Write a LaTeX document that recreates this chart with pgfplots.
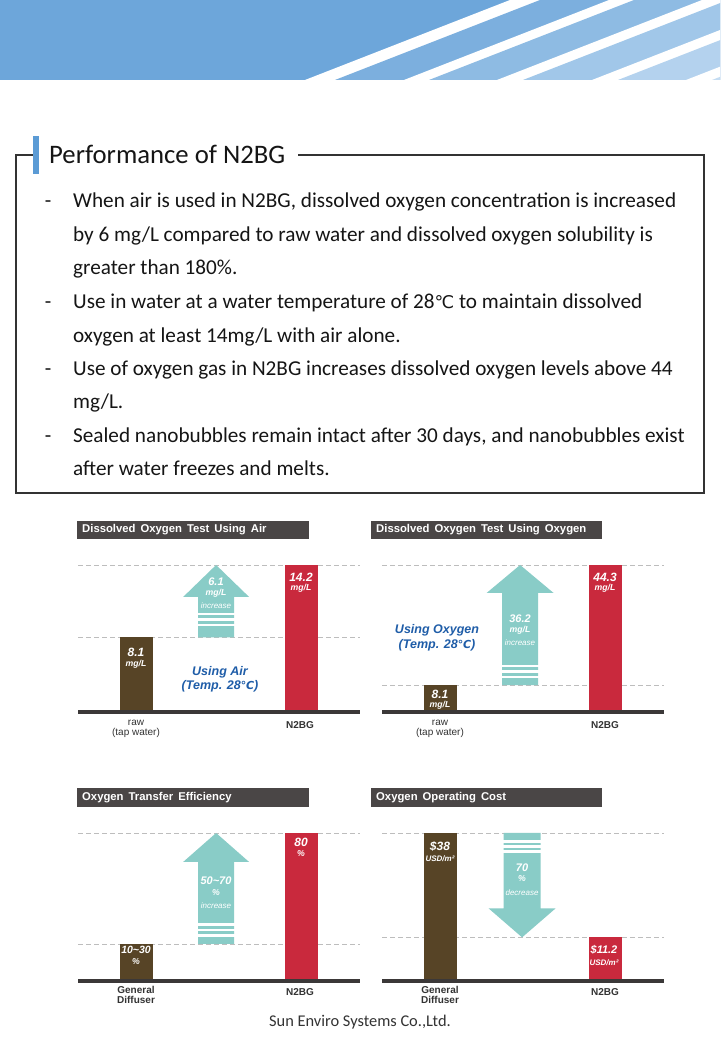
\documentclass[border=0pt]{standalone}
\usepackage{fontspec}
\setmainfont{Carlito}
\newfontfamily\cf{Liberation Sans}
\newfontfamily\djv{DejaVu Sans}
\usepackage{pgfplots}
\pgfplotsset{compat=1.18}
\usetikzlibrary{calc}
\definecolor{bandA}{HTML}{6DA6DA}
\definecolor{bandB}{HTML}{7CAFDE}
\definecolor{bandC}{HTML}{8EBBE3}
\definecolor{bandD}{HTML}{A1C7E9}
\definecolor{bandE}{HTML}{B4D2EE}
\definecolor{bandF}{HTML}{C4DCF2}
\definecolor{accent}{HTML}{5B9BD5}
\definecolor{boxline}{HTML}{333333}
\definecolor{titlebg}{HTML}{4A4646}
\definecolor{baseln}{HTML}{3B3838}
\definecolor{gridc}{HTML}{BDBDBD}
\definecolor{brownbar}{HTML}{574426}
\definecolor{redbar}{HTML}{C9293D}
\definecolor{tealarr}{HTML}{89CCC7}
\definecolor{bluetxt}{HTML}{1F5DA8}
\definecolor{labtxt}{HTML}{333333}
\definecolor{bodytxt}{HTML}{151515}
\newcommand{\body}{\fontsize{21.2}{24}\selectfont}
\pgfplotsset{panel/.style={scale only axis, width=282pt, xmin=-0.352, xmax=1.357,
  axis line style={draw=none}, tick style={draw=none}, xtick=\empty, yticklabels={},
  ymajorgrids, grid style={gridc, line width=0.9pt, dash pattern=on 5pt off 3pt},
  clip mode=individual, anchor=south west}}
\tikzset{
 val/.style={font=\cf\bfseries\itshape\fontsize{12}{12}\selectfont, text=white, inner sep=0pt},
 aval/.style={font=\cf\bfseries\itshape\fontsize{11}{11}\selectfont, text=white, inner sep=0pt},
 unit/.style={font=\cf\bfseries\itshape\fontsize{8.7}{9}\selectfont, text=white, inner sep=0pt},
 inc/.style={font=\cf\itshape\fontsize{8}{8}\selectfont, text=white, inner sep=0pt},
 cat/.style={font=\cf\fontsize{10}{10}\selectfont, text=labtxt, inner sep=0pt},
 catb/.style={font=\cf\bfseries\fontsize{10}{10}\selectfont, text=labtxt, inner sep=0pt},
 note/.style={font=\cf\bfseries\itshape\fontsize{12.5}{13}\selectfont, text=bluetxt, inner sep=0pt},
 ttl/.style={font=\cf\bfseries\fontsize{11.3}{11}\selectfont, text=white, inner sep=0pt, anchor=west},
}
\begin{document}
\begin{tikzpicture}[x=1pt,y=1pt]
\path[use as bounding box] (0,0) rectangle (720,1040);
\fill[white] (0,0) rectangle (720,1040);
% header band
\begin{scope}
\clip (0,960) rectangle (720,1040);
\fill[bandA] (0,960) rectangle (720,1040);
\foreach \xl/\xr/\cc in {305/335/bandB, 404/429/bandC, 497/523/bandD, 592/618/bandE, 686/712/bandF} {
  \fill[white] (\xl,960) -- ({\xl+205},1040) -- (950,1040) -- (950,960) -- cycle;
  \fill[\cc] (\xr,960) -- ({\xr+205},1040) -- (950,1040) -- (950,960) -- cycle;
}
\end{scope}
% text box
\draw[boxline, line width=1.3pt] (16,547) rectangle (704,885);
\fill[white] (39,875) rectangle (298,895);
\fill[accent] (33,866) rectangle (39,904);
\node[anchor=base west, inner sep=0pt, font=\fontsize{26.7}{30}\selectfont, text=bodytxt] at (49,876) {Performance of N2BG};
\foreach \yy in {832,731,664,597} {\node[anchor=base, inner sep=0pt, font=\body, text=bodytxt] at (48,\yy) {-};}
\node[anchor=base west, inner sep=0pt, font=\body, text=bodytxt] at (73,832) {When air is used in N2BG, dissolved oxygen concentration is increased};
\node[anchor=base west, inner sep=0pt, font=\body, text=bodytxt] at (73,798) {by 6 mg/L compared to raw water and dissolved oxygen solubility is};
\node[anchor=base west, inner sep=0pt, font=\body, text=bodytxt] at (73,765) {greater than 180\%.};
\node[anchor=base west, inner sep=0pt, font=\body, text=bodytxt] at (73,731) {Use in water at a water temperature of 28{\djv\fontsize{17.5}{20}\selectfont ℃} to maintain dissolved};
\node[anchor=base west, inner sep=0pt, font=\body, text=bodytxt] at (73,697) {oxygen at least 14mg/L with air alone.};
\node[anchor=base west, inner sep=0pt, font=\body, text=bodytxt] at (73,664) {Use of oxygen gas in N2BG increases dissolved oxygen levels above 44};
\node[anchor=base west, inner sep=0pt, font=\body, text=bodytxt] at (73,631) {mg/L.};
\node[anchor=base west, inner sep=0pt, font=\body, text=bodytxt] at (73,597) {Sealed nanobubbles remain intact after 30 days, and nanobubbles exist};
\node[anchor=base west, inner sep=0pt, font=\body, text=bodytxt] at (73,564) {after water freezes and melts.};

% ---------- Panel 1: air
\begin{axis}[panel, at={(78pt,328pt)}, height=147pt, ymin=1.8, ymax=14.2, ytick={8.1,14.2}]
\addplot[ybar, bar width=0.2, bar shift=0pt, fill=brownbar, draw=none] coordinates {(0,8.1)};
\addplot[ybar, bar width=0.2, bar shift=0pt, fill=redbar, draw=none] coordinates {(1,14.2)};
\fill[tealarr] ([xshift=-18pt]axis cs:0.485,8.1) -- ([xshift=-18pt,yshift=-32pt]axis cs:0.485,14.2) -- ([xshift=-33pt,yshift=-32pt]axis cs:0.485,14.2) -- (axis cs:0.485,14.2) -- ([xshift=33pt,yshift=-32pt]axis cs:0.485,14.2) -- ([xshift=18pt,yshift=-32pt]axis cs:0.485,14.2) -- ([xshift=18pt]axis cs:0.485,8.1) -- cycle;
\fill[white] ([xshift=-19pt,yshift=11pt]axis cs:0.485,8.1) rectangle ([xshift=19pt,yshift=13.5pt]axis cs:0.485,8.1);
\fill[white] ([xshift=-19pt,yshift=16.5pt]axis cs:0.485,8.1) rectangle ([xshift=19pt,yshift=19pt]axis cs:0.485,8.1);
\fill[white] ([xshift=-19pt,yshift=22pt]axis cs:0.485,8.1) rectangle ([xshift=19pt,yshift=24.5pt]axis cs:0.485,8.1);
\draw[baseln, line width=4pt] (rel axis cs:0,0) -- (rel axis cs:1,0);
\end{axis}
\fill[titlebg] (77,501) rectangle (309,519);
\node[ttl] at (82,510) {Dissolved\, Oxygen\, Test\, Using\, Air};
\node[val] at (136,388) {8.1};
\node[unit] at (136,376) {mg/L};
\node[val] at (301,463) {14.2};
\node[unit] at (301,452) {mg/L};
\node[aval] at (216,458) {6.1};
\node[unit] at (216,447) {mg/L};
\node[inc] at (216,434) {increase};
\node[note] at (220,368) {Using Air};
\node[note] at (220,354) {(Temp. 28{\djv\bfseries\itshape\fontsize{11}{12}\selectfont ℃})};
\node[cat] at (136,317) {raw};
\node[cat] at (136,307) {(tap water)};
\node[catb] at (300,315) {N2BG};

% ---------- Panel 2: oxygen
\begin{axis}[panel, at={(382pt,328pt)}, height=147pt, ymin=0, ymax=44.3, ytick={8.1,44.3}]
\addplot[ybar, bar width=0.2, bar shift=0pt, fill=brownbar, draw=none] coordinates {(0,8.1)};
\addplot[ybar, bar width=0.2, bar shift=0pt, fill=redbar, draw=none] coordinates {(1,44.3)};
\fill[tealarr] ([xshift=-18pt]axis cs:0.485,8.1) -- ([xshift=-18pt,yshift=-28pt]axis cs:0.485,44.3) -- ([xshift=-33.5pt,yshift=-28pt]axis cs:0.485,44.3) -- (axis cs:0.485,44.3) -- ([xshift=33.5pt,yshift=-28pt]axis cs:0.485,44.3) -- ([xshift=18pt,yshift=-28pt]axis cs:0.485,44.3) -- ([xshift=18pt]axis cs:0.485,8.1) -- cycle;
\fill[white] ([xshift=-19pt,yshift=7pt]axis cs:0.485,8.1) rectangle ([xshift=19pt,yshift=9.5pt]axis cs:0.485,8.1);
\fill[white] ([xshift=-19pt,yshift=12.5pt]axis cs:0.485,8.1) rectangle ([xshift=19pt,yshift=15pt]axis cs:0.485,8.1);
\fill[white] ([xshift=-19pt,yshift=18pt]axis cs:0.485,8.1) rectangle ([xshift=19pt,yshift=20.5pt]axis cs:0.485,8.1);
\draw[baseln, line width=4pt] (rel axis cs:0,0) -- (rel axis cs:1,0);
\end{axis}
\fill[titlebg] (371,501) rectangle (602,519);
\node[ttl] at (376,510) {Dissolved\, Oxygen\, Test\, Using\, Oxygen};
\node[val] at (440,346) {8.1};
\node[unit] at (440,335) {mg/L};
\node[val] at (605,463) {44.3};
\node[unit] at (605,452) {mg/L};
\node[aval] at (520,421) {36.2};
\node[unit] at (520,410) {mg/L};
\node[inc] at (520,397) {increase};
\node[note] at (437,410) {Using Oxygen};
\node[note] at (437,395) {(Temp. 28{\djv\bfseries\itshape\fontsize{11}{12}\selectfont ℃})};
\node[cat] at (440,317) {raw};
\node[cat] at (440,307) {(tap water)};
\node[catb] at (605,315) {N2BG};

% ---------- Panel 3: transfer efficiency
\begin{axis}[panel, at={(78pt,59pt)}, height=148pt, ymin=0, ymax=80, ytick={20,80}]
\addplot[ybar, bar width=0.2, bar shift=0pt, fill=brownbar, draw=none] coordinates {(0,20)};
\addplot[ybar, bar width=0.2, bar shift=0pt, fill=redbar, draw=none] coordinates {(1,80)};
\fill[tealarr] ([xshift=-18pt]axis cs:0.485,20) -- ([xshift=-18pt,yshift=-29pt]axis cs:0.485,80) -- ([xshift=-33pt,yshift=-29pt]axis cs:0.485,80) -- (axis cs:0.485,80) -- ([xshift=33pt,yshift=-29pt]axis cs:0.485,80) -- ([xshift=18pt,yshift=-29pt]axis cs:0.485,80) -- ([xshift=18pt]axis cs:0.485,20) -- cycle;
\fill[white] ([xshift=-19pt,yshift=7pt]axis cs:0.485,20) rectangle ([xshift=19pt,yshift=9.5pt]axis cs:0.485,20);
\fill[white] ([xshift=-19pt,yshift=12.5pt]axis cs:0.485,20) rectangle ([xshift=19pt,yshift=15pt]axis cs:0.485,20);
\fill[white] ([xshift=-19pt,yshift=18pt]axis cs:0.485,20) rectangle ([xshift=19pt,yshift=20.5pt]axis cs:0.485,20);
\draw[baseln, line width=4pt] (rel axis cs:0,0) -- (rel axis cs:1,0);
\end{axis}
\fill[titlebg] (77,233) rectangle (309,252);
\node[ttl] at (82,242.5) {Oxygen\, Transfer\, Efficiency};
\node[val, font=\cf\bfseries\itshape\fontsize{10.5}{11}\selectfont] at (136,90) {10\textasciitilde 30};
\node[unit] at (136,78) {\%};
\node[val] at (301,198) {80};
\node[unit] at (301,186) {\%};
\node[aval] at (216,159) {50\textasciitilde 70};
\node[unit] at (216,147) {\%};
\node[inc] at (216,134) {increase};
\node[catb] at (136,50) {General};
\node[catb] at (136,40) {Diffuser};
\node[catb] at (300,48) {N2BG};

% ---------- Panel 4: operating cost
\begin{axis}[panel, at={(382pt,59pt)}, height=148pt, ymin=0, ymax=38, ytick={11.2,38}]
\addplot[ybar, bar width=0.2, bar shift=0pt, fill=brownbar, draw=none] coordinates {(0,38)};
\addplot[ybar, bar width=0.2, bar shift=0pt, fill=redbar, draw=none] coordinates {(1,11.2)};
\fill[tealarr] ([xshift=-18.5pt]axis cs:0.497,38) -- ([xshift=-18.5pt,yshift=29pt]axis cs:0.497,11.2) -- ([xshift=-33.5pt,yshift=29pt]axis cs:0.497,11.2) -- (axis cs:0.497,11.2) -- ([xshift=33.5pt,yshift=29pt]axis cs:0.497,11.2) -- ([xshift=18.5pt,yshift=29pt]axis cs:0.497,11.2) -- ([xshift=18.5pt]axis cs:0.497,38) -- cycle;
\fill[white] ([xshift=-19.5pt,yshift=-7.5pt]axis cs:0.497,38) rectangle ([xshift=19.5pt,yshift=-9.7pt]axis cs:0.497,38);
\fill[white] ([xshift=-19.5pt,yshift=-12.3pt]axis cs:0.497,38) rectangle ([xshift=19.5pt,yshift=-15pt]axis cs:0.497,38);
\fill[white] ([xshift=-19.5pt,yshift=-17.3pt]axis cs:0.497,38) rectangle ([xshift=19.5pt,yshift=-19.7pt]axis cs:0.497,38);
\draw[baseln, line width=4pt] (rel axis cs:0,0) -- (rel axis cs:1,0);
\end{axis}
\fill[titlebg] (371,233) rectangle (602,252);
\node[ttl] at (376,242.5) {Oxygen\, Operating\, Cost};
\node[val] at (440,194) {\$38};
\node[unit, font=\cf\bfseries\itshape\fontsize{8}{9}\selectfont] at (440,181) {USD/m²};
\node[val, font=\cf\bfseries\itshape\fontsize{11}{11}\selectfont] at (604,90) {\$11.2};
\node[unit, font=\cf\bfseries\itshape\fontsize{8}{9}\selectfont] at (604,77) {USD/m²};
\node[aval] at (522,172) {70};
\node[unit] at (522,161) {\%};
\node[inc] at (522,147) {decrease};
\node[catb] at (440,50) {General};
\node[catb] at (440,40) {Diffuser};
\node[catb] at (605,48) {N2BG};

\node[inner sep=0pt, font=\fontsize{16.4}{18}\selectfont, text=labtxt] at (360,18) {Sun Enviro Systems Co.,Ltd.};
\end{tikzpicture}
\end{document}
